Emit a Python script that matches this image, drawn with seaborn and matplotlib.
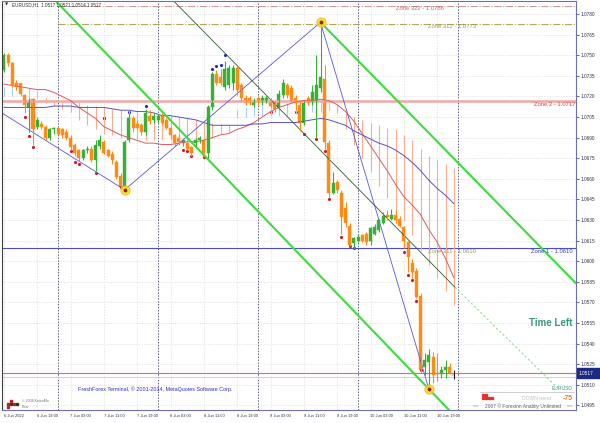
import matplotlib
matplotlib.use("Agg")
import matplotlib.pyplot as plt
from matplotlib.patches import Rectangle
import seaborn as sns
import pandas as pd

# hour index, 0 = 7 Jun 2022 00:00 (EURUSD H1)
bar_hour = list(range(-13, 96))
opens = [1.0739, 1.0750, 1.0744, 1.0730, 1.0730, 1.0721, 1.0712, 1.0718, 1.0698, 1.0700,
         1.0698, 1.0690, 1.0696, 1.0697, 1.0696, 1.0694, 1.0690, 1.0685, 1.0681, 1.0675,
         1.0681, 1.0682, 1.0674, 1.0684, 1.0687, 1.0681, 1.0678, 1.0672, 1.0662, 1.0654,
         1.0688, 1.0704, 1.0700, 1.0699, 1.0694, 1.0706, 1.0703, 1.0703, 1.0706, 1.0703,
         1.0697, 1.0692, 1.0690, 1.0686, 1.0686, 1.0683, 1.0686, 1.0688, 1.0688, 1.0679,
         1.0712, 1.0736, 1.0734, 1.0727, 1.0728, 1.0730, 1.0741, 1.0728, 1.0719, 1.0719,
         1.0714, 1.0719, 1.0716, 1.0716, 1.0717, 1.0716, 1.0712, 1.0721, 1.0728, 1.0726,
         1.0719, 1.0714, 1.0701, 1.0719, 1.0716, 1.0717, 1.0726, 1.0733, 1.0686, 1.0650,
         1.0658, 1.0650, 1.0639, 1.0626, 1.0613, 1.0615, 1.0619, 1.0620, 1.0615, 1.0620,
         1.0623, 1.0628, 1.0634, 1.0631, 1.0634, 1.0631, 1.0625, 1.0614, 1.0599, 1.0593,
         1.0575, 1.0523, 1.0527, 1.0530, 1.0519, 1.0518, 1.0521, 1.0523, 1.0517]
highs = [1.0752, 1.0752, 1.0745, 1.0732, 1.0730, 1.0722, 1.0719, 1.0719, 1.0705, 1.0702,
         1.0699, 1.0697, 1.0698, 1.0698, 1.0697, 1.0696, 1.0692, 1.0686, 1.0682, 1.0682,
         1.0684, 1.0684, 1.0688, 1.0692, 1.0688, 1.0682, 1.0680, 1.0674, 1.0664, 1.0688,
         1.0708, 1.0706, 1.0703, 1.0701, 1.0711, 1.0710, 1.0708, 1.0707, 1.0708, 1.0704,
         1.0698, 1.0693, 1.0692, 1.0690, 1.0687, 1.0684, 1.0690, 1.0691, 1.0690, 1.0714,
         1.0738, 1.0739, 1.0740, 1.0746, 1.0743, 1.0743, 1.0743, 1.0730, 1.0721, 1.0720,
         1.0719, 1.0720, 1.0721, 1.0721, 1.0719, 1.0717, 1.0725, 1.0733, 1.0730, 1.0728,
         1.0721, 1.0717, 1.0717, 1.0720, 1.0728, 1.0750, 1.0774, 1.0743, 1.0688, 1.0665,
         1.0659, 1.0652, 1.0643, 1.0628, 1.0618, 1.0620, 1.0620, 1.0621, 1.0625, 1.0627,
         1.0631, 1.0636, 1.0637, 1.0638, 1.0637, 1.0633, 1.0626, 1.0615, 1.0602, 1.0595,
         1.0577, 1.0533, 1.0536, 1.0534, 1.0533, 1.0524, 1.0528, 1.0526, 1.0521]
lows = [1.0738, 1.0742, 1.0727, 1.0725, 1.0721, 1.0708, 1.0694, 1.0685, 1.0696, 1.0696,
        1.0688, 1.0688, 1.0693, 1.0692, 1.0690, 1.0688, 1.0681, 1.0677, 1.0673, 1.0674,
        1.0679, 1.0672, 1.0666, 1.0682, 1.0678, 1.0676, 1.0671, 1.0660, 1.0652, 1.0651,
        1.0687, 1.0694, 1.0696, 1.0692, 1.0692, 1.0700, 1.0701, 1.0701, 1.0699, 1.0696,
        1.0690, 1.0684, 1.0685, 1.0684, 1.0681, 1.0677, 1.0684, 1.0686, 1.0677, 1.0675,
        1.0710, 1.0728, 1.0728, 1.0725, 1.0726, 1.0725, 1.0721, 1.0717, 1.0714, 1.0714,
        1.0712, 1.0714, 1.0714, 1.0715, 1.0712, 1.0709, 1.0711, 1.0719, 1.0719, 1.0716,
        1.0710, 1.0695, 1.0699, 1.0714, 1.0714, 1.0690, 1.0723, 1.0682, 1.0647, 1.0649,
        1.0650, 1.0620, 1.0625, 1.0611, 1.0610, 1.0614, 1.0614, 1.0612, 1.0612, 1.0619,
        1.0621, 1.0627, 1.0630, 1.0630, 1.0628, 1.0625, 1.0610, 1.0592, 1.0588, 1.0573,
        1.0519, 1.0517, 1.0507, 1.0511, 1.0513, 1.0515, 1.0515, 1.0518, 1.0514]
closes = [1.0750, 1.0744, 1.0728, 1.0727, 1.0722, 1.0714, 1.0717, 1.0696, 1.0703, 1.0698,
          1.0690, 1.0696, 1.0697, 1.0693, 1.0692, 1.0690, 1.0683, 1.0679, 1.0675, 1.0681,
          1.0682, 1.0674, 1.0685, 1.0688, 1.0679, 1.0677, 1.0674, 1.0661, 1.0654, 1.0687,
          1.0704, 1.0697, 1.0697, 1.0694, 1.0708, 1.0702, 1.0706, 1.0706, 1.0701, 1.0697,
          1.0692, 1.0686, 1.0687, 1.0688, 1.0682, 1.0679, 1.0688, 1.0690, 1.0679, 1.0712,
          1.0736, 1.0730, 1.0730, 1.0740, 1.0741, 1.0741, 1.0725, 1.0719, 1.0715, 1.0715,
          1.0717, 1.0716, 1.0719, 1.0719, 1.0713, 1.0711, 1.0722, 1.0730, 1.0721, 1.0717,
          1.0715, 1.0701, 1.0715, 1.0715, 1.0723, 1.0728, 1.0734, 1.0687, 1.0650, 1.0657,
          1.0652, 1.0632, 1.0628, 1.0612, 1.0617, 1.0618, 1.0615, 1.0614, 1.0624, 1.0625,
          1.0630, 1.0633, 1.0632, 1.0634, 1.0630, 1.0626, 1.0615, 1.0603, 1.0592, 1.0574,
          1.0521, 1.0528, 1.0532, 1.0517, 1.0518, 1.0521, 1.0523, 1.0519, 1.0517]

# indicator lines, read every second bar
ma_hour = list(range(-13, 96, 2))
ma_red = [1.0729, 1.0728, 1.0727, 1.0726, 1.0725, 1.0725, 1.0723, 1.0720, 1.0717, 1.0712,
          1.0708, 1.0704, 1.0698, 1.0695, 1.0692, 1.0690, 1.0688, 1.0686, 1.0686, 1.0685,
          1.0685, 1.0686, 1.0687, 1.0687, 1.0688, 1.0690, 1.0692, 1.0693, 1.0696, 1.0698,
          1.0701, 1.0705, 1.0709, 1.0712, 1.0714, 1.0716, 1.0717, 1.0717, 1.0718, 1.0717,
          1.0714, 1.0709, 1.0702, 1.0693, 1.0684, 1.0675, 1.0666, 1.0656, 1.0647, 1.0641,
          1.0634, 1.0623, 1.0614, 1.0602, 1.0588]
ma_blue = [1.0712, 1.0712, 1.0712, 1.0712, 1.0712, 1.0712, 1.0713, 1.0713, 1.0713, 1.0712,
           1.0712, 1.0712, 1.0712, 1.0711, 1.0710, 1.0710, 1.0709, 1.0709, 1.0708, 1.0706,
           1.0706, 1.0705, 1.0704, 1.0703, 1.0701, 1.0699, 1.0699, 1.0699, 1.0699, 1.0699,
           1.0700, 1.0700, 1.0701, 1.0701, 1.0701, 1.0701, 1.0702, 1.0703, 1.0704, 1.0703,
           1.0701, 1.0699, 1.0695, 1.0692, 1.0689, 1.0686, 1.0684, 1.0681, 1.0677, 1.0672,
           1.0666, 1.0659, 1.0653, 1.0648, 1.0642]
band_top = [1.0727, 1.0727, 1.0726, 1.0726, 1.0725, 1.0719, 1.0717, 1.0717, 1.0716, 1.0716,
            1.0714, 1.0713, 1.0712, 1.0711, 1.0710, 1.0710, 1.0709, 1.0709, 1.0707, 1.0706,
            1.0706, 1.0705, 1.0704, 1.0703, 1.0701, 1.0701, 1.0700, 1.0699, 1.0710, 1.0712,
            1.0712, 1.0713, 1.0714, 1.0714, 1.0715, 1.0716, 1.0716, 1.0717, 1.0716, 1.0715,
            1.0714, 1.0708, 1.0705, 1.0703, 1.0701, 1.0699, 1.0697, 1.0696, 1.0692, 1.0688,
            1.0682, 1.0677, 1.0674, 1.0671, 1.0668]
band_bot = [1.0720, 1.0720, 1.0720, 1.0719, 1.0719, 1.0715, 1.0713, 1.0711, 1.0709, 1.0703,
            1.0699, 1.0696, 1.0693, 1.0692, 1.0690, 1.0690, 1.0689, 1.0688, 1.0688, 1.0688,
            1.0688, 1.0688, 1.0687, 1.0687, 1.0689, 1.0690, 1.0693, 1.0694, 1.0704, 1.0705,
            1.0706, 1.0706, 1.0706, 1.0706, 1.0706, 1.0707, 1.0708, 1.0709, 1.0709, 1.0710,
            1.0708, 1.0696, 1.0685, 1.0675, 1.0665, 1.0655, 1.0646, 1.0637, 1.0629, 1.0619,
            1.0608, 1.0597, 1.0588, 1.0578, 1.0568]
band_up = [True] * 5 + [False] * 23 + [True] * 12 + [False] * 15

red_dot_hour = [-8, -7, -6, 3, 4, 5, 9, 15, 30, 31, 32, 35, 51, 57, 59, 62, 64, 65,
                68, 70, 71, 83, 84, 85, 86, 87]
red_dot_price = [1.0705, 1.0691, 1.0683, 1.0680, 1.0672, 1.0671, 1.0664, 1.0654, 1.0681,
                 1.0680, 1.0677, 1.0676, 1.0709, 1.0709, 1.0693, 1.0689, 1.0680, 1.0645,
                 1.0618, 1.0611, 1.0610, 1.0607, 1.0590, 1.0586, 1.0571, 1.0521]
blue_dot_hour = [11, 17, 21, 37, 38, 39, 40]
blue_dot_price = [1.0704, 1.0709, 1.0713, 1.0740, 1.0742, 1.0743, 1.0750]

pivot_hour = [16, 63, 89]
pivot_price = [1.0652, 1.0774, 1.0507]
zigzag_hour = [-14, 16, 63, 89]
zigzag_price = [1.0709, 1.0652, 1.0774, 1.0507]

# channel lines (anchor points)
chan_low = [(-0.7, 1.0790), (89, 1.0507)]
chan_up = [(63, 1.0774), (124.3, 1.0584)]
chan_mid = [(27.6, 1.0790), (95.3, 1.0581)]
chan_ray = [(95.3, 1.0581), (119.8, 1.0508)]

price_ticks = [1.0495, 1.0510, 1.0525, 1.0540, 1.0555, 1.0570, 1.0585, 1.0600, 1.0615,
               1.0630, 1.0645, 1.0660, 1.0675, 1.0690, 1.0705, 1.0720, 1.0735, 1.0750,
               1.0765, 1.0780]
tick_hour = [-13, -5, 3, 11, 19, 27, 35, 43, 51, 59, 67, 75, 83, 91]
tick_labels = ["6 Jun 2022", "6 Jun 19:00", "7 Jun 03:00", "7 Jun 11:00", "7 Jun 19:00",
               "8 Jun 03:00", "8 Jun 11:00", "8 Jun 19:00", "9 Jun 03:00", "9 Jun 11:00",
               "9 Jun 19:00", "10 Jun 03:00", "10 Jun 11:00", "10 Jun 19:00"]
day_hour = [0, 24, 48, 72, 96]

sns.set_theme(style="white")
plt.rcParams["font.family"] = ["Liberation Sans", "DejaVu Sans"]

df = pd.DataFrame({"h": bar_hour, "o": opens, "hi": highs, "lo": lows, "c": closes})
GREEN, ORANGE = "#36b036", "#ff8a14"
col = [GREEN if c > o else ORANGE for o, c in zip(df.o, df.c)]
col[-1] = "#202020"

fig = plt.figure(figsize=(6, 4.23), dpi=100)
ax = fig.add_axes([2 / 600, 13 / 423, 574 / 600, 409 / 423])
ax.set_xlim(-13.44, 124.32)
ax.set_ylim(1.04917, 1.07895)

# grid + day separators
ax.set_xticks(tick_hour)
ax.set_yticks(price_ticks)
ax.grid(True, color="#dcdcdc", ls=(0, (2, 2)), lw=0.5)
for d in day_hour:
    ax.axvline(d, color="#5a5a7a", ls=(0, (1.5, 1.5)), lw=0.7)

# zones
ax.hlines(1.0786, 0, 124.3, color="#d49a9a", lw=0.8, ls="-.")
ax.hlines(1.0773, 0, 124.3, color="#b5a55a", lw=0.8, ls="-.")
ax.axhline(1.0717, color="#f2a6a6", lw=1.8)
ax.axhline(1.0610, color="#4b4bd0", lw=0.8)
ax.axhline(1.0519, color="#e06a6a", lw=0.8)
ax.axhline(1.0516, color="#cdcdea", lw=0.7)

# band histogram between averages
for h, t, b, up in zip(ma_hour, band_top, band_bot, band_up):
    ax.vlines(h, b, t, color="#a9cdef" if up else "#f6ae90", lw=0.8)

sns.lineplot(x=ma_hour, y=ma_red, ax=ax, color="#e05a5a", lw=0.7)
sns.lineplot(x=ma_hour, y=ma_blue, ax=ax, color="#5a50c8", lw=0.7)

# zigzag + channel
ax.plot(zigzag_hour, zigzag_price, color="#5757dd", lw=0.6)
ax.axline(chan_low[0], chan_low[1], color="#3ddc3d", lw=1.5)
ax.plot(*zip(*chan_up), color="#3ddc3d", lw=1.5)
ax.plot(*zip(*chan_mid), color="#2f5a2f", lw=0.6)
ax.plot(*zip(*chan_ray), color="#8fe08f", lw=0.8, ls=(0, (2, 2)))

# candles
body = (df.c - df.o).abs().clip(lower=0.00005)
ax.vlines(df.h, df.lo, df.hi, colors=col, lw=0.8)
ax.bar(df.h, body, bottom=df[["o", "c"]].min(axis=1), width=0.72, color=col,
       edgecolor=col, linewidth=0.3)

sns.scatterplot(x=red_dot_hour, y=red_dot_price, ax=ax, color="#d8141e", s=5, linewidth=0)
sns.scatterplot(x=blue_dot_hour, y=blue_dot_price, ax=ax, color="#1c28c8", s=5, linewidth=0)
ax.scatter(pivot_hour, pivot_price, s=45, color="#f4dc1a", alpha=0.85, edgecolor="#f0b020",
           linewidth=0.6, zorder=5)
ax.scatter(pivot_hour, pivot_price, s=3, color="#a02020", zorder=6)

# axes styling
ax.yaxis.tick_right()
ax.tick_params(axis="y", labelsize=3.4, length=2, pad=1, colors="#303050", width=0.5)
ax.set_yticklabels([f"{p:.4f}" for p in price_ticks])
ax.set_xticklabels(tick_labels, ha="left", fontsize=2.9)
ax.tick_params(axis="x", length=2, pad=1, colors="#303050", width=0.5)
for s in ax.spines.values():
    s.set_color("#7070a8")
    s.set_linewidth(0.8)
ax.spines["left"].set_color("#404040")

# chart texts
def fx(px):
    return px / 600

def fy(py):
    return 1 - py / 423

fig.text(fx(5), fy(5), "\u25bc", fontsize=3, color="#303030", va="center",
         family="DejaVu Sans")
fig.text(fx(12), fy(5), "EURUSD,H1  1.0517 1.0521 1.0514 1.0517", fontsize=3.3,
         color="#303030", va="center")
fig.text(fx(396), fy(8), "Zone 322 - 1.0786", fontsize=4.2, color="#c06868", va="center")
fig.text(fx(428), fy(27), "Zone 312 - 1.0773", fontsize=4.2, color="#a09a40", va="center")
fig.text(fx(575), fy(104), "Zone 2 - 1.0717", fontsize=4.2, color="#e03c3c", va="center",
         ha="right")
fig.text(fx(428), fy(251), "Zone 311 - 1.0610", fontsize=4.2, color="#a09a40", va="center")
fig.text(fx(573), fy(251), "Zone 1 - 1.0610", fontsize=4.2, color="#3c3cc8", va="center",
         ha="right")
fig.text(fx(529), fy(323), "Time Left", fontsize=7, color="#3a9a7a", va="center",
         weight="bold")
fig.text(fx(78), fy(389), "FreshForex Terminal, \u00a9 2001-2014, MetaQuotes Software Corp.",
         fontsize=3.9, color="#2a2ad0", va="center")

# bottom-right info panel
fig.text(fx(573), fy(388), "EURUSD", fontsize=3.6, color="#3a9a7a", va="center", ha="right")
fig.add_artist(plt.Line2D([fx(480), fx(574)], [fy(392), fy(392)], color="#c8c8c8", lw=0.6))
for dx, dy, c in [(482, 394, "#e03030"), (485, 394, "#e03030"), (482, 397, "#e03030"),
                  (485, 397, "#e03030"), (488, 397, "#e03030"), (491, 397, "#e03030")]:
    fig.patches.append(Rectangle((fx(dx), fy(dy + 2)), 2 / 600, 2 / 423, color=c,
                                 transform=fig.transFigure, figure=fig))
fig.text(fx(522), fy(398), "DOWN trend", fontsize=3.6, color="#c0c0c0", va="center")
fig.text(fx(563), fy(398), "-75", fontsize=5, color="#e08020", va="center", weight="bold")
fig.text(fx(473), fy(406), "sss", fontsize=3, color="#a0a0a0", va="center")
fig.text(fx(485), fy(406), "2007 \u00a9 Forexinn Anabliy Unlimited", fontsize=3.5,
         color="#606060", va="center")
fig.text(fx(567), fy(406), "sss", fontsize=3, color="#a0a0a0", va="center")

# bottom-left logo
for dx, dy, c in [(7, 403, "#c02020"), (10, 403, "#204020"), (13, 403, "#c02020"),
                  (10, 400, "#c02020"), (16, 403, "#204020"), (7, 406, "#c02020")]:
    fig.patches.append(Rectangle((fx(dx), fy(dy + 2)), 2 / 600, 2 / 423, color=c,
                                 transform=fig.transFigure, figure=fig))
fig.text(fx(22), fy(401), "\u00a9 2008 KeizoMo", fontsize=2.6, color="#707070", va="center")
fig.text(fx(22), fy(407), "Kezr", fontsize=2.6, color="#707070", va="center")

# current price box
fig.patches.append(Rectangle((fx(577), fy(378)), 23 / 600, 10 / 423, color="#1c2a80",
                             transform=fig.transFigure, figure=fig))
fig.text(fx(579), fy(373), "1.0517", fontsize=3.4, color="white", va="center")

fig.savefig("out.png", dpi=100)
